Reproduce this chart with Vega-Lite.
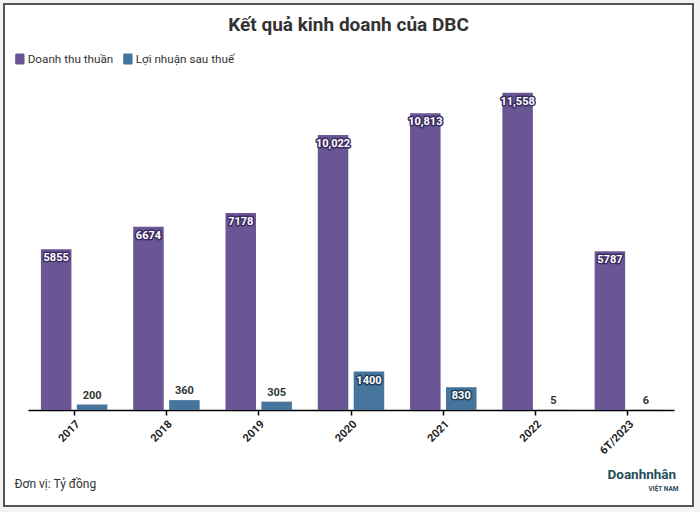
{
  "$schema": "https://vega.github.io/schema/vega-lite/v6.json",
  "autosize": "none",
  "padding": {"left": 4, "top": 4, "right": 7, "bottom": 6},
  "width": 689,
  "height": 502,
  "background": "#f3f3f3",
  "title": {"text": "Kết quả kinh doanh của DBC", "frame": "group", "anchor": "middle", "offset": -31, "fontSize": 19, "fontWeight": "bold", "color": "#333333", "font": "Roboto"},
  "config": {
    "view": {"fill": "#ffffff", "stroke": "#555555", "strokeWidth": 2},
    "font": "Roboto",
    "legend": {
      "orient": "none", "legendX": 10, "legendY": 49, "direction": "horizontal",
      "labelFontSize": 11.7, "labelColor": "#333333", "labelFont": "Roboto",
      "symbolType": "M -0.65 -1 L 0.65 -1 Q 0.85 -1 0.85 -0.75 L 0.85 0.75 Q 0.85 1 0.65 1 L -0.65 1 Q -0.85 1 -0.85 0.75 L -0.85 -0.75 Q -0.85 -1 -0.65 -1 Z",
      "symbolSize": 121, "symbolStrokeWidth": 0, "symbolOpacity": 1, "labelOffset": 2, "columnPadding": 8
    }
  },
  "data": {"values": [
    {"year": "2017", "series": "Doanh thu thuần", "value": 5855, "label": "5855"},
    {"year": "2017", "series": "Lợi nhuận sau thuế", "value": 200, "label": "200"},
    {"year": "2018", "series": "Doanh thu thuần", "value": 6674, "label": "6674"},
    {"year": "2018", "series": "Lợi nhuận sau thuế", "value": 360, "label": "360"},
    {"year": "2019", "series": "Doanh thu thuần", "value": 7178, "label": "7178"},
    {"year": "2019", "series": "Lợi nhuận sau thuế", "value": 305, "label": "305"},
    {"year": "2020", "series": "Doanh thu thuần", "value": 10022, "label": "10,022"},
    {"year": "2020", "series": "Lợi nhuận sau thuế", "value": 1400, "label": "1400"},
    {"year": "2021", "series": "Doanh thu thuần", "value": 10813, "label": "10,813"},
    {"year": "2021", "series": "Lợi nhuận sau thuế", "value": 830, "label": "830"},
    {"year": "2022", "series": "Doanh thu thuần", "value": 11558, "label": "11,558"},
    {"year": "2022", "series": "Lợi nhuận sau thuế", "value": 5, "label": "5"},
    {"year": "6T/2023", "series": "Doanh thu thuần", "value": 5787, "label": "5787"},
    {"year": "6T/2023", "series": "Lợi nhuận sau thuế", "value": 6, "label": "6"}
  ]},
  "encoding": {
    "x": {
      "field": "year", "type": "nominal", "sort": null,
      "scale": {"range": [24, 670], "paddingInner": 0.28, "paddingOuter": 0.14},
      "axis": {
        "title": "Đơn vị: Tỷ đồng", "titleX": 10, "titleY": 73, "titleAlign": "left", "titleBaseline": "middle",
        "titleFontSize": 12, "titleFontWeight": "normal", "titleColor": "#333333", "titleFont": "Roboto",
        "offset": -96, "labelAngle": -45, "labelFontSize": 11, "labelFontWeight": "bold", "labelColor": "#222222",
        "labelPadding": 3, "domainColor": "#000000", "domainWidth": 1.5, "tickColor": "#000000", "tickWidth": 1.5,
        "tickSize": 5, "grid": false
      }
    },
    "xOffset": {
      "field": "series", "type": "nominal", "sort": null,
      "scale": {"domain": ["Doanh thu thuần", "Lợi nhuận sau thuế"], "paddingInner": 0.15, "paddingOuter": 0}
    }
  },
  "layer": [
    {
      "mark": {"type": "bar"},
      "encoding": {
        "y": {
          "field": "value", "type": "quantitative",
          "scale": {"domain": [0, 12000], "range": [406, 76.7], "nice": false},
          "axis": {
            "orient": "left", "title": "Doanhnhân", "domain": false, "ticks": false, "labels": false, "grid": false,
            "titleAngle": 0, "titleX": 603, "titleY": 474, "titleAlign": "left", "titleBaseline": "alphabetic",
            "titleFontSize": 13.5, "titleFontWeight": "bold", "titleColor": "#1f4e5a", "titleFont": "Roboto"
          }
        },
        "color": {
          "field": "series", "type": "nominal",
          "scale": {"domain": ["Doanh thu thuần", "Lợi nhuận sau thuế"], "range": ["#6a5695", "#45749c"]},
          "legend": {"title": null}
        }
      }
    },
    {
      "transform": [{"filter": {"field": "series", "equal": "Doanh thu thuần"}}],
      "mark": {"type": "text", "baseline": "middle", "dy": 9, "fontSize": 11, "fontWeight": "bold", "fill": "#ffffff", "stroke": "#3b2d63", "strokeWidth": 3, "strokeJoin": "round"},
      "encoding": {
        "y": {
          "field": "value", "type": "quantitative",
          "scale": {"domain": [0, 12000], "range": [406, 76.7], "nice": false},
          "axis": {
            "orient": "right", "title": "VIỆT NAM", "domain": false, "ticks": false, "labels": false, "grid": false,
            "titleAngle": 0, "titleX": -45, "titleY": 486, "titleAlign": "left", "titleBaseline": "alphabetic",
            "titleFontSize": 6.5, "titleFontWeight": "bold", "titleColor": "#1f4e5a", "titleFont": "Roboto"
          }
        },
        "text": {"field": "label"}
      }
    },
    {
      "transform": [{"filter": {"field": "series", "equal": "Doanh thu thuần"}}],
      "mark": {"type": "text", "baseline": "middle", "dy": 9, "fontSize": 11, "fontWeight": "bold", "fill": "#ffffff"},
      "encoding": {
        "y": {"field": "value", "type": "quantitative", "scale": {"domain": [0, 12000], "range": [406, 76.7], "nice": false}, "axis": null},
        "text": {"field": "label"}
      }
    },
    {
      "transform": [{"filter": {"field": "series", "equal": "Lợi nhuận sau thuế"}}, {"filter": "datum.value > 500"}],
      "mark": {"type": "text", "baseline": "middle", "dy": 9, "fontSize": 11, "fontWeight": "bold", "fill": "#ffffff", "stroke": "#23415c", "strokeWidth": 3, "strokeJoin": "round"},
      "encoding": {
        "y": {"field": "value", "type": "quantitative", "scale": {"domain": [0, 12000], "range": [406, 76.7], "nice": false}, "axis": null},
        "text": {"field": "label"}
      }
    },
    {
      "transform": [{"filter": {"field": "series", "equal": "Lợi nhuận sau thuế"}}, {"filter": "datum.value > 500"}],
      "mark": {"type": "text", "baseline": "middle", "dy": 9, "fontSize": 11, "fontWeight": "bold", "fill": "#ffffff"},
      "encoding": {
        "y": {"field": "value", "type": "quantitative", "scale": {"domain": [0, 12000], "range": [406, 76.7], "nice": false}, "axis": null},
        "text": {"field": "label"}
      }
    },
    {
      "transform": [{"filter": {"field": "series", "equal": "Lợi nhuận sau thuế"}}, {"filter": "datum.value <= 500"}],
      "mark": {"type": "text", "baseline": "middle", "dy": -9, "fontSize": 11, "fontWeight": "bold", "fill": "#333333"},
      "encoding": {
        "y": {"field": "value", "type": "quantitative", "scale": {"domain": [0, 12000], "range": [406, 76.7], "nice": false}, "axis": null},
        "text": {"field": "label"}
      }
    }
  ],
  "resolve": {"scale": {"y": "independent"}}
}
